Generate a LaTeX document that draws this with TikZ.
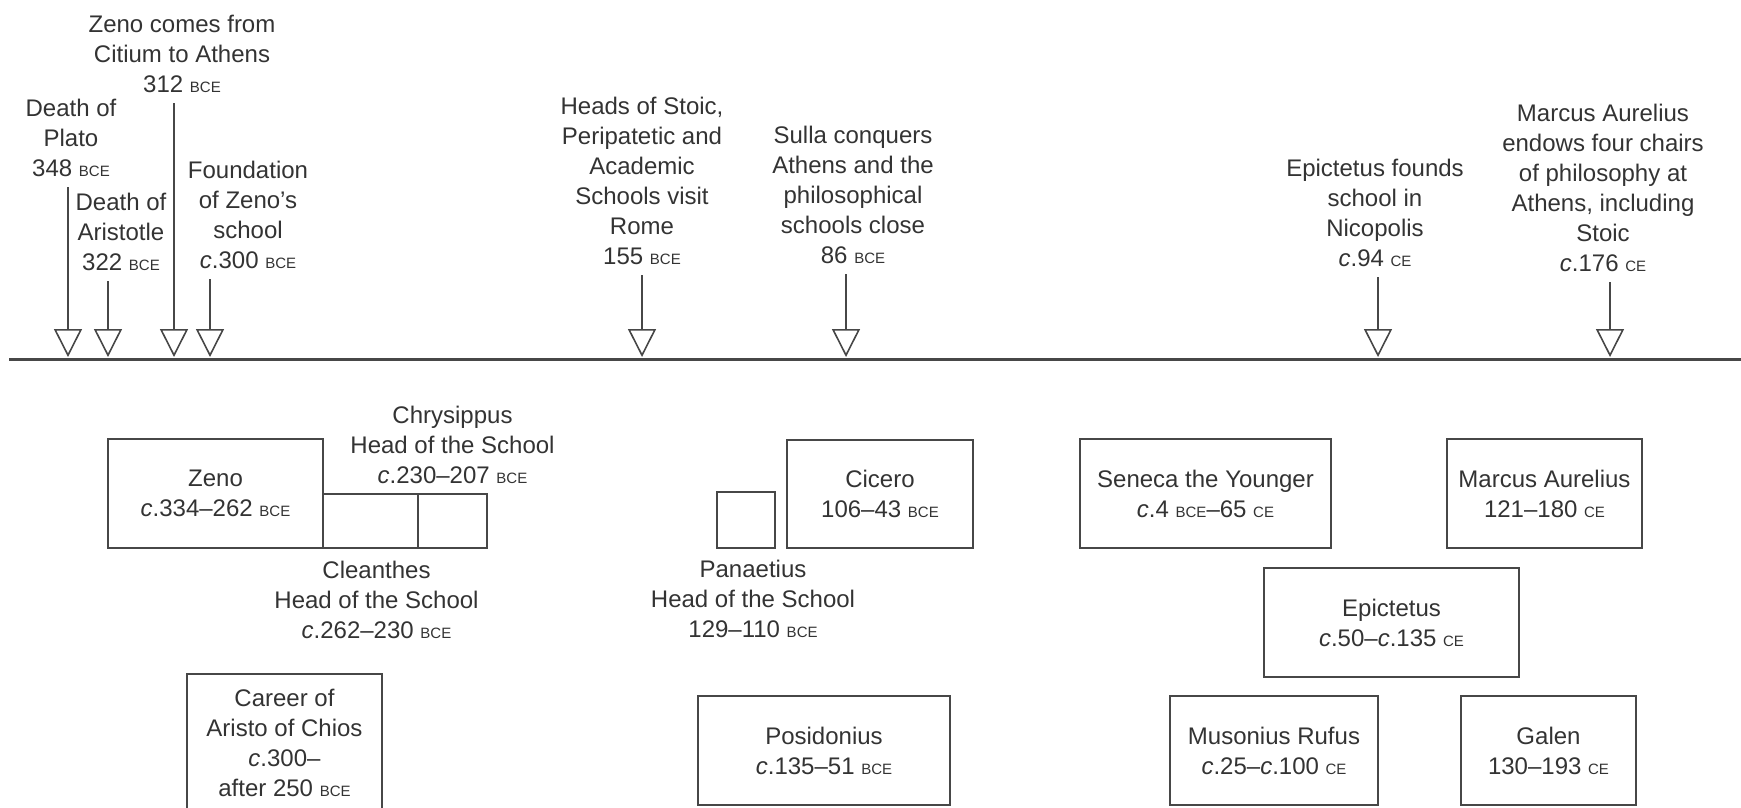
\documentclass[tikz,border=0pt]{standalone}
\usepackage{fontspec}
\setmainfont{Liberation Sans}
\usetikzlibrary{positioning,arrows.meta}

\definecolor{ink}{HTML}{333333}
\definecolor{rule}{HTML}{474747}
\newcommand{\bce}{{\fontsize{15}{15}\selectfont BCE}}
\newcommand{\cee}{{\fontsize{15}{15}\selectfont CE}}
\newcommand{\circa}{\textit{c}.}

\begin{document}
\begin{tikzpicture}[x=1pt, y=-1pt,
  every node/.style={text=ink, font=\fontsize{24}{30}\selectfont},
  event/.style={align=center, inner sep=0pt},
  life/.style={draw=rule, line width=1.6pt, align=center, inner sep=0pt, outer sep=0pt},
  stem/.style={draw=rule, line width=1.6pt, shorten <=10pt, -{Triangle[open, length=28pt, width=28pt]}},
  axis/.style={draw=rule, line width=3pt}]

\useasboundingbox (0,0) rectangle (1741,807);

% time axis and ticks
\coordinate (axisL) at (9,359);
\coordinate (axisR) at (1741,359);
\coordinate (t348) at (68,357);
\coordinate (t322) at (108,357);
\coordinate (t312) at (174,357);
\coordinate (t300) at (210,357);
\coordinate (t155) at (642,357);
\coordinate (t86) at (846,357);
\coordinate (t94) at (1378,357);
\coordinate (t176) at (1610,357);

% events
\node[event] (plato) at (71,138) {Death of\\Plato\\348 \bce};
\node[event] (aristotle) at (121,232) {Death of\\Aristotle\\322 \bce};
\node[event] (citium) at (182,54) {Zeno comes from\\Citium to Athens\\312 \bce};
\node[event] (foundation) at (248,215) {Foundation\\of Zeno's\\school\\\circa300 \bce};
\node[event] (visit) at (642,181) {Heads of Stoic,\\Peripatetic and\\Academic\\Schools visit\\Rome\\155 \bce};
\node[event] (sulla) at (853,195) {Sulla conquers\\Athens and the\\philosophical\\schools close\\86 \bce};
\node[event] (nicopolis) at (1375,213) {Epictetus founds\\school in\\Nicopolis\\\circa94 \cee};
\node[event] (chairs) at (1603,188) {Marcus Aurelius\\endows four chairs\\of philosophy at\\Athens, including\\Stoic\\\circa176 \cee};

% lives
\node[life, minimum width=215pt, minimum height=109pt] (zeno) at (215.5,493.5) {Zeno\\\circa334--262 \bce};
\node[life, minimum width=95pt, minimum height=54pt, anchor=south west] (cleanthes) at (zeno.south east) {};
\node[life, minimum width=69pt, minimum height=54pt, right=0pt of cleanthes] (chrysippus) {};
\node[event, above=10pt of chrysippus] (chrysippus_l) {Chrysippus\\Head of the School\\\circa230--207 \bce};
\node[event, below=13pt of cleanthes, xshift=6pt] (cleanthes_l) {Cleanthes\\Head of the School\\\circa262--230 \bce};
\node[life, minimum width=195pt, inner ysep=15pt, anchor=north] (aristo) at (284.5,674) {Career of\\Aristo of Chios\\\circa300--\\after 250 \bce};

\node[life, minimum width=58pt, minimum height=56pt] (panaetius) at (746,520) {};
\node[event, below=12pt of panaetius, xshift=7pt] (panaetius_l) {Panaetius\\Head of the School\\129--110 \bce};
\node[life, minimum width=186pt, minimum height=108pt] (cicero) at (880,494) {Cicero\\106--43 \bce};
\node[life, minimum width=252pt, minimum height=109pt] (posidonius) at (824,750.5) {Posidonius\\\circa135--51 \bce};

\node[life, minimum width=251pt, minimum height=109pt] (seneca) at (1205.5,493.5) {Seneca the Younger\\\circa4 \bce--65 \cee};
\node[life, minimum width=195pt, minimum height=109pt] (marcus) at (1544.5,493.5) {Marcus Aurelius\\121--180 \cee};
\node[life, minimum width=255pt, minimum height=109pt] (epictetus) at (1391.5,622.5) {Epictetus\\\circa50--\circa135 \cee};
\node[life, minimum width=208pt, minimum height=109pt] (musonius) at (1274,750.5) {Musonius Rufus\\\circa25--\circa100 \cee};
\node[life, minimum width=175pt, minimum height=109pt] (galen) at (1548.5,750.5) {Galen\\130--193 \cee};

\draw[axis] (axisL) -- (axisR);

\draw[stem] (plato.south -| t348) -- (t348);
\draw[stem] (aristotle.south -| t322) -- (t322);
\draw[stem] (citium.south -| t312) -- (t312);
\draw[stem] (foundation.south -| t300) -- (t300);
\draw[stem] (visit.south -| t155) -- (t155);
\draw[stem] (sulla.south -| t86) -- (t86);
\draw[stem] (nicopolis.south -| t94) -- (t94);
\draw[stem] (chairs.south -| t176) -- (t176);

\end{tikzpicture}
\end{document}
